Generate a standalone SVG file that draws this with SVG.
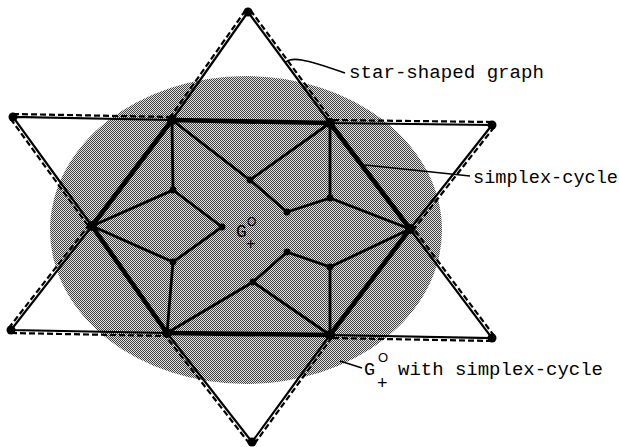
<svg xmlns="http://www.w3.org/2000/svg" width="619" height="447" viewBox="0 0 619 447">
<defs>
<pattern id="half" width="2" height="2" patternUnits="userSpaceOnUse">
<rect width="2" height="2" fill="#e2e2e2"/>
<rect width="1" height="1" fill="#404040"/>
<rect x="1" y="1" width="1" height="1" fill="#404040"/>
</pattern>
</defs>
<style>
.hex{stroke:#000;stroke-width:4.6;stroke-linecap:round;fill:none}
.tip{stroke:#000;stroke-width:2.2;fill:none}
.dash{stroke:#000;stroke-width:2.2;stroke-dasharray:6 3;fill:none}
.in{stroke:#000;stroke-width:2.8;fill:none;stroke-linecap:round}
.lead{stroke:#000;stroke-width:1.6;fill:none}
.dot{fill:#000}
.t{font-family:"Liberation Mono","DejaVu Sans Mono",monospace;fill:#000}
.s{font-family:"Liberation Sans","DejaVu Sans",sans-serif;fill:#000}
</style>
<rect width="619" height="447" fill="#fff"/>
<g id="region">
<ellipse cx="246" cy="230" rx="196" ry="154" fill="url(#half)"/>
</g>
<g id="connectors">
<polygon class="hex" points="172,120 330,123 410,229 330,335 167,333 92,226" stroke-linejoin="round"/>
<path class="tip" d="M172,120 L248,12 L330,123 M172,120 L13,117 L92,226 M330,123 L492,125 L410,229 M92,226 L11,330 L167,333 M410,229 L492,338 L330,335 M167,333 L252,442 L330,335"/>
<path class="dash" d="M245.5,10.3 L169.5,118.3 M250.4,10.2 L332.4,121.2 M13,114 L172,117 M10.6,118.8 L89.6,227.8 M492,122 L330,120 M494.4,126.9 L412.4,230.9 M8.6,328.2 L89.6,224.2 M11,333 L167,336 M494.4,336.2 L412.4,227.2 M492,341 L330,338 M249.6,443.8 L164.6,334.8 M254.4,443.8 L332.4,336.8"/>
<path class="in" d="M172,120 L173,190 L92,226 M173,190 L222,227 L173,262 L92,226 M173,262 L167,333 M172,120 L250,180 L330,123 M250,180 L287,212 L330,198 L330,123 M330,198 L410,229 M167,333 L253,282 L330,335 M253,282 L287,252 L330,267 L330,335 M330,267 L410,229"/>
<path class="lead" d="M286,62 C292,57 302,58 345,73"/>
<path class="lead" d="M365,165 L470,176"/>
<path class="lead" d="M340,361 L362,368"/>
</g>
<g id="n-top"><circle class="dot" cx="248" cy="12" r="4.5"/></g>
<g id="n-ul"><circle class="dot" cx="13" cy="117" r="4.5"/></g>
<g id="n-ur"><circle class="dot" cx="492" cy="125" r="4.5"/></g>
<g id="n-ll"><circle class="dot" cx="11" cy="330" r="4.5"/></g>
<g id="n-lr"><circle class="dot" cx="492" cy="338" r="4.5"/></g>
<g id="n-bottom"><circle class="dot" cx="252" cy="442" r="4.5"/></g>
<g id="h-tl"><circle class="dot" cx="172" cy="120" r="5"/></g>
<g id="h-tr"><circle class="dot" cx="330" cy="123" r="5"/></g>
<g id="h-l"><circle class="dot" cx="92" cy="226" r="5"/></g>
<g id="h-r"><circle class="dot" cx="410" cy="229" r="5"/></g>
<g id="h-bl"><circle class="dot" cx="167" cy="333" r="5"/></g>
<g id="h-br"><circle class="dot" cx="330" cy="335" r="5"/></g>
<g id="i-a"><circle class="dot" cx="250" cy="180" r="3.4"/></g>
<g id="i-b"><circle class="dot" cx="287" cy="212" r="3.4"/></g>
<g id="i-c"><circle class="dot" cx="330" cy="198" r="3.4"/></g>
<g id="i-d"><circle class="dot" cx="173" cy="190" r="3.4"/></g>
<g id="i-e"><circle class="dot" cx="222" cy="227" r="3.4"/></g>
<g id="i-f"><circle class="dot" cx="173" cy="262" r="3.4"/></g>
<g id="i-a2"><circle class="dot" cx="253" cy="282" r="3.4"/></g>
<g id="i-b2"><circle class="dot" cx="287" cy="252" r="3.4"/></g>
<g id="i-c2"><circle class="dot" cx="330" cy="267" r="3.4"/></g>
<g id="label-center">
<text class="t" x="236" y="237" style="font-size:18px">G</text>
<text class="s" x="247" y="226" style="font-size:12px">O</text>
<text class="s" x="246" y="249" style="font-size:16px">+</text>
</g>
<g id="label-star"><text class="t" x="349" y="78" style="font-size:18.5px" textLength="195" lengthAdjust="spacingAndGlyphs">star-shaped graph</text></g>
<g id="label-cycle"><text class="t" x="473" y="183" style="font-size:18.5px" textLength="145" lengthAdjust="spacingAndGlyphs">simplex-cycle</text></g>
<g id="label-g">
<text class="t" x="364" y="375" style="font-size:18.5px">G</text>
<text class="s" x="378" y="362" style="font-size:13px">O</text>
<text class="s" x="377" y="389" style="font-size:18px">+</text>
<text class="t" x="398" y="375" style="font-size:18.5px" textLength="205" lengthAdjust="spacingAndGlyphs">with simplex-cycle</text>
</g>
</svg>
